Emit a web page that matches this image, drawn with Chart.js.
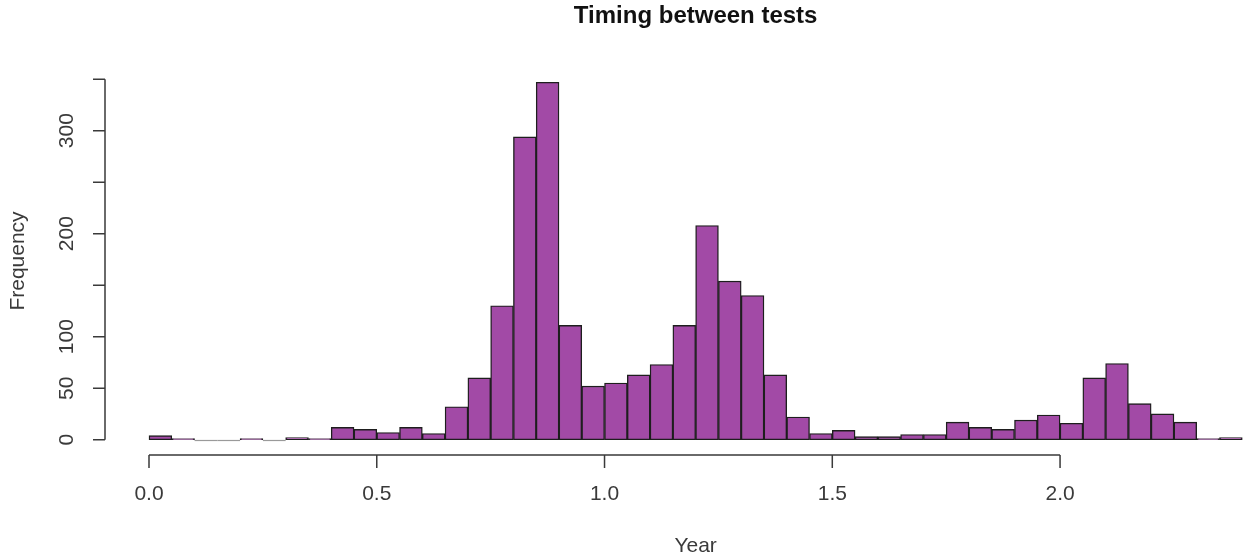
<!DOCTYPE html>
<html>
<head>
<meta charset="utf-8">
<title>Timing between tests</title>
<script src="https://cdn.jsdelivr.net/npm/chart.js@4.4.1/dist/chart.umd.min.js"></script>
<style>
    html, body { margin: 0; padding: 0; background: #ffffff; }
    #wrap { width: 1245px; height: 558px; }
</style>
</head>
<body>
<div id="wrap"><canvas id="histChart" width="1245" height="558"></canvas></div>
<script>
// Histogram data: bin starts (width 0.05 year) and counts
const binWidth = 0.05;
const binStarts = [
    0.00, 0.05, 0.10, 0.15, 0.20, 0.25, 0.30, 0.35, 0.40, 0.45, 0.50, 0.55,
    0.60, 0.65, 0.70, 0.75, 0.80, 0.85, 0.90, 0.95, 1.00, 1.05, 1.10, 1.15,
    1.20, 1.25, 1.30, 1.35, 1.40, 1.45, 1.50, 1.55, 1.60, 1.65, 1.70, 1.75,
    1.80, 1.85, 1.90, 1.95, 2.00, 2.05, 2.10, 2.15, 2.20, 2.25, 2.30, 2.35
];
const counts = [
    4, 1, 0, 0, 1, 0, 2, 1, 12, 10, 7, 12,
    6, 32, 60, 130, 294, 347, 111, 52, 55, 63, 73, 111,
    208, 154, 140, 63, 22, 6, 9, 3, 3, 5, 5, 17,
    12, 10, 19, 24, 16, 60, 74, 35, 25, 17, 1, 2
];
const xTicks = [0, 0.5, 1.0, 1.5, 2.0];
const yTicks = [0, 50, 100, 150, 200, 250, 300, 350];
const yLabelled = [0, 50, 100, 200, 300];

const chartTitle = 'Timing between tests';
const xTitle = 'Year';
const yTitle = 'Frequency';

const barFill = '#a24aa6';
const barEdge = '#1e1e1e';
const axisColor = '#3a3a3a';
const textColor = '#3a3a3a';
const fontFamily = '"Liberation Sans", Arial, Helvetica, sans-serif';

// R-style axes, titles and empty bins
const rAxesPlugin = {
    id: 'rAxes',
    afterDraw(chart) {
        const ctx = chart.ctx;
        const xs = chart.scales.x;
        const ys = chart.scales.y;
        const area = chart.chartArea;

        ctx.save();

        // empty bins drawn as a line on the baseline
        ctx.strokeStyle = '#9a9a9a';
        ctx.lineWidth = 1.2;
        binStarts.forEach((start, i) => {
            if (counts[i] === 0) {
                const y0 = Math.round(ys.getPixelForValue(0)) + 0.5;
                ctx.beginPath();
                ctx.moveTo(xs.getPixelForValue(start), y0);
                ctx.lineTo(xs.getPixelForValue(start + binWidth), y0);
                ctx.stroke();
            }
        });

        ctx.strokeStyle = axisColor;
        ctx.lineWidth = 1.5;

        // x axis
        const xAxisY = area.bottom + 1;
        ctx.beginPath();
        ctx.moveTo(xs.getPixelForValue(xTicks[0]), xAxisY);
        ctx.lineTo(xs.getPixelForValue(xTicks[xTicks.length - 1]), xAxisY);
        xTicks.forEach(v => {
            const px = xs.getPixelForValue(v);
            ctx.moveTo(px, xAxisY);
            ctx.lineTo(px, xAxisY + 13);
        });
        ctx.stroke();

        // y axis
        const yAxisX = area.left;
        ctx.beginPath();
        ctx.moveTo(yAxisX, ys.getPixelForValue(yTicks[0]));
        ctx.lineTo(yAxisX, ys.getPixelForValue(yTicks[yTicks.length - 1]));
        yTicks.forEach(v => {
            const py = ys.getPixelForValue(v);
            ctx.moveTo(yAxisX, py);
            ctx.lineTo(yAxisX - 12, py);
        });
        ctx.stroke();

        // titles
        const plotCenter = xs.getPixelForValue(1.2);
        ctx.fillStyle = '#111111';
        ctx.font = 'bold 24px ' + fontFamily;
        ctx.textAlign = 'center';
        ctx.textBaseline = 'middle';
        ctx.fillText(chartTitle, plotCenter, 16);

        ctx.fillStyle = textColor;
        ctx.font = '21px ' + fontFamily;
        ctx.fillText(xTitle, plotCenter, 546);

        ctx.translate(18, (area.top + area.bottom) / 2);
        ctx.rotate(-Math.PI / 2);
        ctx.fillText(yTitle, 0, 0);

        ctx.restore();
    }
};

const histData = binStarts.map((start, i) => ({ x: start + binWidth / 2, y: counts[i] }));

new Chart(document.getElementById('histChart').getContext('2d'), {
    type: 'bar',
    data: {
        datasets: [{
            label: 'Frequency',
            data: histData,
            backgroundColor: barFill,
            borderColor: barEdge,
            borderWidth: 1.4,
            borderSkipped: false,
            barPercentage: 1.0,
            categoryPercentage: 1.0
        }]
    },
    options: {
        responsive: false,
        animation: false,
        layout: {
            padding: { top: 68, right: 0, bottom: 0, left: 0 }
        },
        plugins: {
            legend: { display: false },
            tooltip: { enabled: false },
            title: { display: false }
        },
        scales: {
            x: {
                type: 'linear',
                offset: false,
                min: -0.0966,
                max: 2.406,
                grid: { display: false, drawTicks: false, offset: false },
                border: { display: false },
                afterBuildTicks: scale => {
                    scale.ticks = xTicks.map(v => ({ value: v }));
                },
                afterFit: scale => { scale.height = 104; },
                ticks: {
                    padding: 28,
                    color: textColor,
                    font: { family: fontFamily, size: 21 },
                    maxRotation: 0,
                    minRotation: 0,
                    callback: value => value.toFixed(1)
                }
            },
            y: {
                type: 'linear',
                min: -13.88,
                max: 360.88,
                grid: { display: false, drawTicks: false },
                border: { display: false },
                afterBuildTicks: scale => {
                    scale.ticks = yTicks.map(v => ({ value: v }));
                },
                afterFit: scale => { scale.width = 105; },
                ticks: {
                    padding: 20,
                    color: textColor,
                    font: { family: fontFamily, size: 21 },
                    minRotation: 90,
                    maxRotation: 90,
                    crossAlign: 'center',
                    callback: value => yLabelled.includes(value) ? String(value) : ''
                }
            }
        }
    },
    plugins: [rAxesPlugin]
});
</script>
</body>
</html>
